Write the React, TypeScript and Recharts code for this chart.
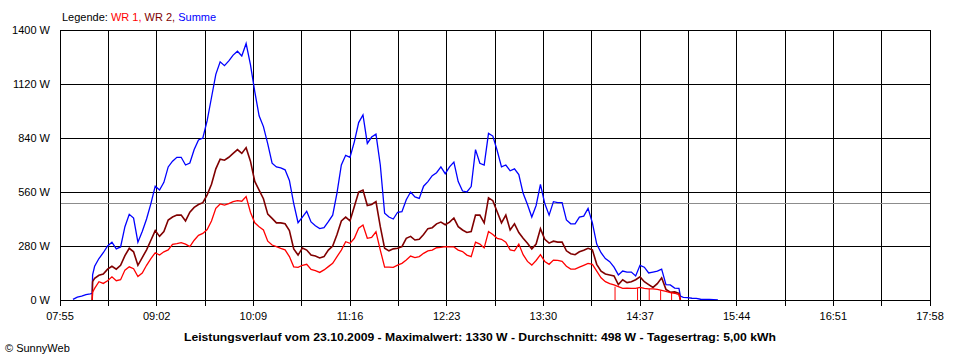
import React from 'react';
import { LineChart, Line, XAxis, YAxis, CartesianGrid, ReferenceLine } from 'recharts';

// minutes since midnight
const times = [
  484, 487, 490, 493, 496, 497.3, 497.6, 499, 502, 505,
  508, 511, 514, 517, 520, 523, 526, 529, 532, 535,
  538, 541, 544, 547, 550, 553, 556, 559, 562, 565,
  568, 571, 574, 577, 580, 583, 586, 589, 592, 595,
  598, 601, 604, 607, 610, 613, 616, 619, 622, 625,
  628, 631, 634, 637, 640, 643, 646, 649, 652, 655,
  658, 661, 664, 667, 670, 673, 676, 679, 682, 685,
  688, 691, 694, 697, 700, 703, 706, 709, 712, 715,
  718, 721, 724, 727, 730, 733, 736, 739, 742, 745,
  748, 751, 754, 757, 760, 763, 766, 769, 772, 775,
  778, 781, 784, 787, 790, 793, 796, 799, 802, 805,
  808, 811, 814, 817, 820, 823, 826, 829, 832, 835,
  838, 841, 844, 847, 850, 853, 856, 859, 862, 865,
  868, 871, 874, 877, 880, 883, 886, 889, 892, 895,
  898, 901, 904, 905, 907, 910, 913, 916, 919, 922,
  925, 928, 931,
];

const summe = [
  3, 15, 20, 28, 32, 35, 130, 175, 215, 245,
  280, 300, 265, 275, 380, 444, 425, 300, 355, 420,
  500, 590, 570, 610, 690, 720, 740, 740, 700, 710,
  780, 830, 840, 930, 1050, 1170, 1235, 1215, 1240, 1270,
  1290, 1265, 1330, 1220, 1080, 955, 899, 810, 709, 690,
  685, 675, 620, 500, 401, 430, 460, 405, 385, 370,
  375, 406, 440, 555, 700, 750, 740, 820, 920, 960,
  812, 845, 860, 700, 450, 430, 420, 455, 458, 520,
  560, 535, 527, 590, 614, 645, 660, 690, 655, 690,
  715, 614, 565, 560, 588, 780, 709, 700, 864, 850,
  775, 690, 700, 670, 680, 650, 553, 495, 430, 490,
  600, 500, 440, 510, 505, 505, 415, 395, 395, 430,
  435, 475, 400, 290, 245, 215, 199, 170, 130, 150,
  145, 145, 125, 180, 170, 140, 145, 150, 160, 80,
  78, 62, 60, 20, 14, 12, 9, 8, 4, 3,
  3, 2, 1,
];

const wr2 = [
  null, null, null, null, null, 0, 95, 112, 128, 135,
  160, 175, 160, 180, 230, 268, 250, 180, 220, 260,
  310, 360, 330, 355, 415, 430, 440, 440, 410, 455,
  480, 495, 505, 545, 600, 680, 730, 725, 740, 760,
  780, 760, 790, 720, 615, 570, 525, 445, 423, 400,
  400, 395, 360, 265, 233, 270, 259, 233, 228, 218,
  225, 259, 280, 340, 410, 430, 410, 485, 560, 570,
  490, 495, 510, 380, 268, 255, 265, 268, 277, 320,
  330, 311, 315, 340, 370, 375, 395, 404, 390, 404,
  425, 380, 363, 350, 355, 440, 440, 400, 530, 515,
  458, 400, 440, 363, 395, 350, 320, 294, 265, 290,
  370, 315, 295, 305, 300, 300, 255, 240, 235, 250,
  258, 268, 260, 185, 150, 135, 130, 125, 80, 105,
  90, 95, 105, 120, 95, 80, 65, 85, 115, 55,
  40, 42, 35, 0, null, null, null, null, null, null,
  null, null, null,
];

const wr1 = [
  null, null, null, null, null, 0, 40, 60, 95, 86,
  100, 120, 100, 105, 155, 172, 162, 122, 140, 180,
  215, 245, 233, 250, 260, 288, 292, 297, 290, 277,
  310, 335, 345, 365, 410, 475, 498, 492, 500, 510,
  515, 512, 536, 455, 400, 380, 363, 305, 285, 277,
  268, 260, 225, 172, 169, 180, 185, 159, 152, 143,
  156, 173, 190, 225, 259, 302, 294, 320, 372, 389,
  320, 325, 354, 259, 170, 170, 169, 181, 190, 207,
  228, 220, 225, 242, 255, 259, 271, 273, 277, 275,
  275, 259, 251, 233, 225, 300, 290, 270, 355, 340,
  320, 315, 300, 260, 255, 290, 235, 200, 181, 205,
  235, 200, 185, 207, 205, 200, 175, 160, 160, 170,
  180, 190, 185, 150, 115, 95, 85, 78, 69, 60,
  62, 60, 60, 65, 60, 58, 58, 55, 50, 45,
  38, 35, 28, 0, null, null, null, null, null, null,
  null, null, null,
];

// short drop-outs of WR 1 to zero
const wr1DropTimes = [859.7, 875.3, 883.4, 891.3, 898.9];
const wr1DropLevels = [69, 62, 58, 50, 38];

const xTickLabels = ['07:55', '09:02', '10:09', '11:16', '12:23', '13:30', '14:37', '15:44', '16:51', '17:58'];
const yTicks = [0, 280, 560, 840, 1120, 1400];
const average = 498;

const title = 'Leistungsverlauf vom 23.10.2009 - Maximalwert: 1330 W - Durchschnitt: 498 W - Tagesertrag: 5,00 kWh';

const toMin = (s: string) => {
  const [h, m] = s.split(':').map(Number);
  return h * 60 + m;
};

const labelMins = xTickLabels.map(toMin);
const xTicks: number[] = [];
labelMins.forEach((m, i) => {
  xTicks.push(m);
  if (i < labelMins.length - 1) xTicks.push((m + labelMins[i + 1]) / 2);
});

const rows = times.map((t, i) => ({ t, summe: summe[i], wr2: wr2[i], wr1: wr1[i] }));
const drops = wr1DropTimes.flatMap((t, i) => [
  { t, v: wr1DropLevels[i] },
  { t, v: 0 },
  { t, v: null },
]);

const FONT = '"Liberation Sans", Arial, sans-serif';
const tickStyle = { fill: '#000', fontSize: 11, fontFamily: FONT };

export default function App() {
  return (
    <div style={{ position: 'absolute', left: 0, top: 0, width: 960, height: 360, background: '#fff' }}>
      <LineChart width={960} height={360} data={rows} margin={{ top: 30, right: 30, left: 0, bottom: 0 }}>
        <CartesianGrid stroke="#000" strokeWidth={1} shapeRendering="crispEdges" />
        <XAxis
          dataKey="t"
          type="number"
          domain={[475, 1078]}
          ticks={xTicks}
          interval={0}
          height={60}
          tick={tickStyle}
          tickSize={6}
          tickMargin={6}
          tickLine={{ stroke: '#000', shapeRendering: 'crispEdges' }}
          axisLine={{ stroke: '#000', shapeRendering: 'crispEdges' }}
          tickFormatter={(v) => {
            const k = labelMins.indexOf(v);
            return k >= 0 ? xTickLabels[k] : '';
          }}
          allowDataOverflow
        />
        <YAxis
          domain={[0, 1400]}
          ticks={yTicks}
          width={60}
          tick={tickStyle}
          tickLine={false}
          tickSize={6}
          tickMargin={4}
          axisLine={{ stroke: '#000', shapeRendering: 'crispEdges' }}
          tickFormatter={(v) => `${v} W`}
          allowDataOverflow
        />
        <ReferenceLine y={average} stroke="#8c8c8c" strokeWidth={1} shapeRendering="crispEdges" />
        <Line dataKey="summe" stroke="#0000ff" strokeWidth={1.3} dot={false} isAnimationActive={false} />
        <Line dataKey="wr2" stroke="#800000" strokeWidth={1.6} dot={false} isAnimationActive={false} />
        <Line dataKey="wr1" stroke="#ff0000" strokeWidth={1.3} dot={false} isAnimationActive={false} />
        <Line data={drops} dataKey="v" stroke="#ff0000" strokeWidth={1} dot={false} isAnimationActive={false} />
      </LineChart>
      <svg width={960} height={360} style={{ position: 'absolute', left: 0, top: 0, pointerEvents: 'none' }}>
        <text x={62} y={21} fontSize={11} fontFamily={FONT}>
          <tspan fill="#000">Legende: </tspan>
          <tspan fill="#ff0000">WR 1, </tspan>
          <tspan fill="#800000">WR 2, </tspan>
          <tspan fill="#0000ff">Summe</tspan>
        </text>
        <text x={184} y={341} fontSize={11} fontWeight="bold" fontFamily={FONT} textLength={592} lengthAdjust="spacingAndGlyphs">
          {title}
        </text>
        <text x={5} y={352} fontSize={11} fontFamily={FONT}>
          © SunnyWeb
        </text>
      </svg>
    </div>
  );
}
